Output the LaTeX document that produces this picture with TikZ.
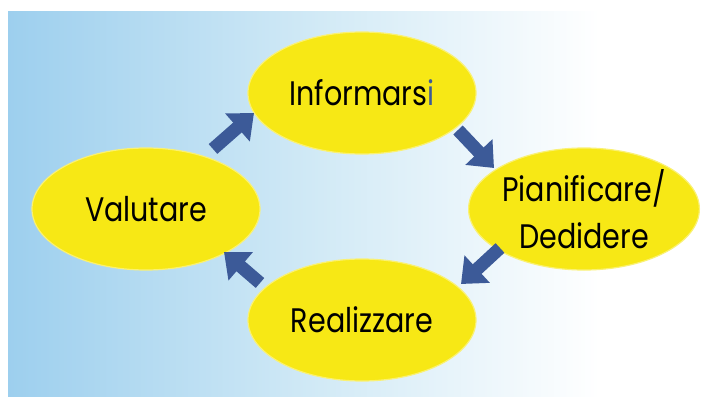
\documentclass[tikz,border=0pt]{standalone}
\usepackage{fontspec}
\setmainfont{Poppins}[FakeStretch=0.84]
\usetikzlibrary{arrows.meta,shapes.geometric}
\definecolor{bgblue}{HTML}{9DCFEE}
\definecolor{bgmid}{HTML}{D2EAF6}
\definecolor{ellyellow}{HTML}{F7E815}
\definecolor{arrblue}{HTML}{3C5A98}
\tikzset{
  phase/.style={ellipse, fill=ellyellow, draw=ellyellow!60!white, line width=1.2pt,
    minimum width=228pt, minimum height=122pt, inner sep=0pt, align=center,
    font=\fontsize{34}{47}\selectfont},
  flow/.style={draw=arrblue, line width=13pt, -{Triangle[length=22pt,width=36pt]}},
}
\begin{document}
\begin{tikzpicture}[x=1pt,y=-1pt]
\useasboundingbox (0,0) rectangle (701,396);
\fill[white] (0,0) rectangle (701,396);
\shade[left color=bgblue, right color=bgmid, shading angle=90] (8,12) rectangle (320,396);
\shade[left color=bgmid, right color=white, shading angle=90] (320,12) rectangle (600,396);
\node[phase] (inf) at (362,93) {Informars\textcolor{arrblue}{i}};
\node[phase] (val) at (146,209) {Valutare};
\node[phase] (pia) at (584,209) {Pianificare/\\Dedidere};
\node[phase] (rea) at (362,320) {Realizzare};
\coordinate (a1s) at (213,149); \coordinate (a1e) at (254,113);
\coordinate (a2s) at (458,130); \coordinate (a2e) at (494,168);
\coordinate (a3s) at (500,248); \coordinate (a3e) at (461,284);
\coordinate (a4s) at (260,283); \coordinate (a4e) at (224,252);
\draw[flow] (a1s) -- (a1e);
\draw[flow] (a2s) -- (a2e);
\draw[flow] (a3s) -- (a3e);
\draw[flow] (a4s) -- (a4e);
\end{tikzpicture}
\end{document}
